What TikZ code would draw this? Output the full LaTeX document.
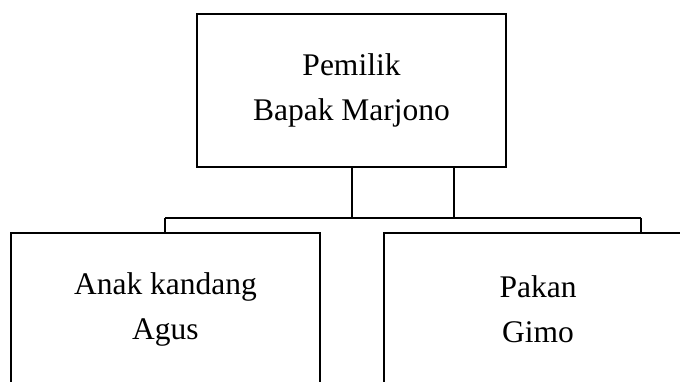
\documentclass[tikz,border=0pt]{standalone}
\usepackage{fontspec}
\setmainfont{Liberation Serif}
\usepackage{xcolor}
\usepackage{tikz}
\usetikzlibrary{calc}
\definecolor{ink}{HTML}{000000}
\definecolor{paper}{HTML}{FFFFFF}
\tikzset{
  orgbox/.style={draw=ink, line width=2pt, fill=paper, rectangle,
    minimum width=309pt, minimum height=153pt, inner sep=0pt,
    align=center, font=\fontsize{31.5}{45}\selectfont},
  link/.style={draw=ink, line width=2pt}
}
\begin{document}
\begin{tikzpicture}[x=1pt,y=-1pt]
  \useasboundingbox (0,0) rectangle (680,381);
  \clip (0,0) rectangle (680,381);
  \fill[paper] (0,0) rectangle (680,381);

  % owner at the top, two staff boxes below
  \node[orgbox] (owner) at (351.5,90.5) {Pemilik\\Bapak Marjono};
  \node[orgbox] (kandang) at (165.5,309.5) {Anak kandang\\Agus};
  \node[orgbox] (pakan) at (538,309.5) {Pakan\\Gimo};

  % bus line between the levels
  \coordinate (busL) at (165,218);
  \coordinate (busR) at (641,218);
  \coordinate (tap) at (454.3,218);

  \draw[link] (owner.south) -- (owner.south |- busL);
  \draw[link] (owner.south -| tap) -- (tap);
  \draw[link] (busL) -- (busR);
  \draw[link] (busL) -- (busL |- kandang.north);
  \draw[link] (busR) -- (busR |- pakan.north);
\end{tikzpicture}
\end{document}
